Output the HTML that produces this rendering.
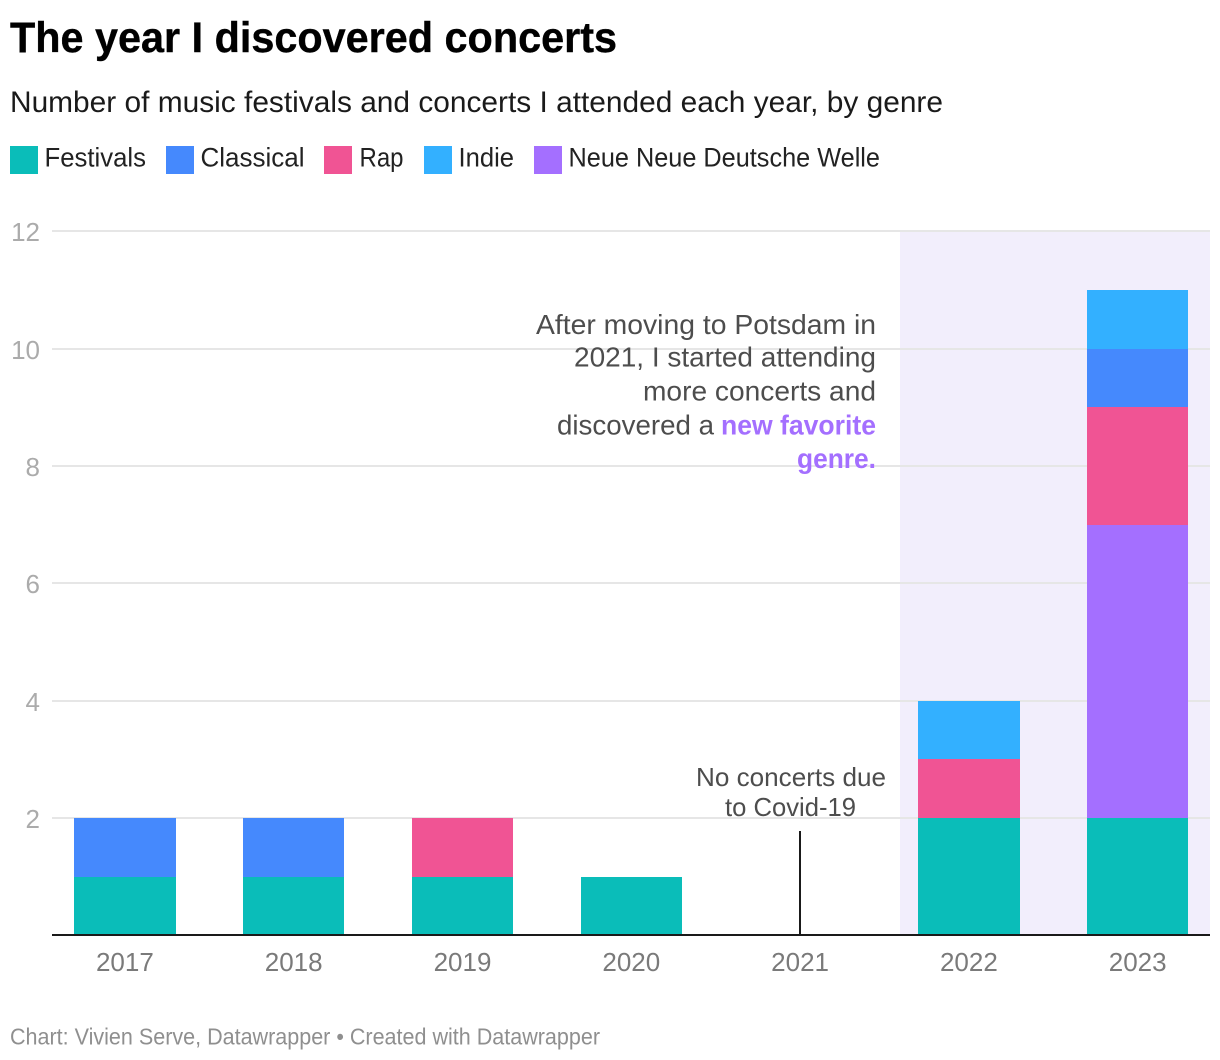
<!DOCTYPE html>
<html lang="en">
<head>
<meta charset="utf-8">
<title>The year I discovered concerts</title>
<style>
  html, body { margin: 0; padding: 0; background: #fff; }
  svg { display: block; font-family: "Liberation Sans", sans-serif; }
</style>
</head>
<body>
<svg id="chart" width="1220" height="1060" viewBox="0 0 1220 1060" xmlns="http://www.w3.org/2000/svg">
  <rect x="0" y="0" width="1220" height="1060" fill="#ffffff"/>
  <text x="10" y="52" font-size="43" font-weight="700" fill="#000" stroke="#000" stroke-width="0.4" textLength="607" lengthAdjust="spacingAndGlyphs">The year I discovered concerts</text>
  <text x="10" y="112" font-size="30" fill="#1a1a1a" textLength="933" lengthAdjust="spacingAndGlyphs">Number of music festivals and concerts I attended each year, by genre</text>

  <g font-size="27" fill="#222">
    <g>
      <rect x="10" y="146" width="28" height="28" fill="#0abdb9"/>
      <text x="44.5" y="166.500" textLength="101.500" lengthAdjust="spacingAndGlyphs">Festivals</text>
    </g>
    <g>
      <rect x="166" y="146" width="28" height="28" fill="#4589fd"/>
      <text x="200.5" y="166.500" textLength="104" lengthAdjust="spacingAndGlyphs">Classical</text>
    </g>
    <g>
      <rect x="324" y="146" width="28" height="28" fill="#f05494"/>
      <text x="359.5" y="166.500" textLength="44" lengthAdjust="spacingAndGlyphs">Rap</text>
    </g>
    <g>
      <rect x="424" y="146" width="28" height="28" fill="#33b0ff"/>
      <text x="458.5" y="166.500" textLength="55.500" lengthAdjust="spacingAndGlyphs">Indie</text>
    </g>
    <g>
      <rect x="534" y="146" width="28" height="28" fill="#a46fff"/>
      <text x="568.5" y="166.500" textLength="311.500" lengthAdjust="spacingAndGlyphs">Neue Neue Deutsche Welle</text>
    </g>
  </g>

  <rect x="900" y="231" width="310" height="704" fill="#f2eefc"/>
  <g id="grid"></g>
  <g id="bars"></g>
  <g id="xlabels"></g>

  <rect x="799" y="831" width="2" height="104" fill="#1a1a1a"/>
  <rect x="52" y="934" width="1158" height="2" fill="#1a1a1a"/>

  <g font-size="28" fill="#4d4d4d">
    <text x="536" y="334" textLength="340" lengthAdjust="spacingAndGlyphs">After moving to Potsdam in</text>
    <text x="574" y="366.500" textLength="302" lengthAdjust="spacingAndGlyphs">2021, I started attending</text>
    <text x="643" y="400.500" textLength="233" lengthAdjust="spacingAndGlyphs">more concerts and</text>
    <text x="557" y="434.500" textLength="157" lengthAdjust="spacingAndGlyphs">discovered a</text>
    <text x="721" y="434.500" font-weight="700" fill="#a46fff" textLength="155" lengthAdjust="spacingAndGlyphs">new favorite</text>
    <text x="797" y="468" font-weight="700" fill="#a46fff" textLength="79" lengthAdjust="spacingAndGlyphs">genre.</text>
  </g>
  <g font-size="26" fill="#4d4d4d">
    <text x="696" y="786" textLength="190" lengthAdjust="spacingAndGlyphs">No concerts due</text>
    <text x="725" y="816" textLength="131" lengthAdjust="spacingAndGlyphs">to Covid-19</text>
  </g>

  <text x="10" y="1044.500" font-size="23" fill="#8f8f8f" textLength="590" lengthAdjust="spacingAndGlyphs">Chart: Vivien Serve, Datawrapper • Created with Datawrapper</text>
</svg>

<script>
const years = ["2017", "2018", "2019", "2020", "2021", "2022", "2023"];
const festivals = [1, 1, 1, 1, 0, 2, 2];
const neueNeueDeutscheWelle = [0, 0, 0, 0, 0, 0, 5];
const rap = [0, 0, 1, 0, 0, 1, 2];
const classical = [1, 1, 0, 0, 0, 0, 1];
const indie = [0, 0, 0, 0, 0, 1, 1];
const yTicks = [2, 4, 6, 8, 10, 12];

const NS = "http://www.w3.org/2000/svg";
const yBase = 935.4;
const yUnit = 58.67;
const xFirst = 124.9;
const xStep = 168.8;
const barHalfWidth = 50.7;

function yScale(v) { return Math.round(yBase - v * yUnit); }
function xCenter(i) { return xFirst + i * xStep; }

const grid = document.getElementById("grid");
yTicks.forEach(function (t) {
  const line = document.createElementNS(NS, "rect");
  
  
  line.setAttribute("x", 52);
  line.setAttribute("y", yScale(t) - 1);
  line.setAttribute("width", 1158);
  line.setAttribute("height", 2);
  line.setAttribute("fill", "#e6e6e6");
  grid.appendChild(line);

  const label = document.createElementNS(NS, "text");
  
  
  label.setAttribute("x", 40);
  label.setAttribute("y", yScale(t) + 10);
  label.setAttribute("text-anchor", "end");
  label.setAttribute("font-size", "26");
  label.setAttribute("fill", "#ababab");
  label.textContent = t;
  grid.appendChild(label);
});

const seriesList = [
  { key: "festivals", values: festivals, color: "#0abdb9" },
  { key: "nndw", values: neueNeueDeutscheWelle, color: "#a46fff" },
  { key: "rap", values: rap, color: "#f05494" },
  { key: "classical", values: classical, color: "#4589fd" },
  { key: "indie", values: indie, color: "#33b0ff" }
];

const bars = document.getElementById("bars");
years.forEach(function (year, i) {
  let total = 0;
  const left = Math.round(xCenter(i) - barHalfWidth);
  const right = Math.round(xCenter(i) + barHalfWidth);
  seriesList.forEach(function (s) {
    const v = s.values[i];
    if (v > 0) {
      const top = yScale(total + v);
      const bottom = yScale(total);
      const bar = document.createElementNS(NS, "rect");
      
      
      bar.setAttribute("x", left);
      bar.setAttribute("y", top);
      bar.setAttribute("width", right - left);
      bar.setAttribute("height", bottom - top);
      bar.setAttribute("fill", s.color);
      bars.appendChild(bar);
    }
    total += v;
  });
});

const xlabels = document.getElementById("xlabels");
years.forEach(function (year, i) {
  const label = document.createElementNS(NS, "text");
  
  
  label.setAttribute("x", xCenter(i));
  label.setAttribute("y", 971);
  label.setAttribute("text-anchor", "middle");
  label.setAttribute("font-size", "26");
  label.setAttribute("fill", "#7a7a7a");
  label.textContent = year;
  xlabels.appendChild(label);
});
</script>
</body>
</html>
